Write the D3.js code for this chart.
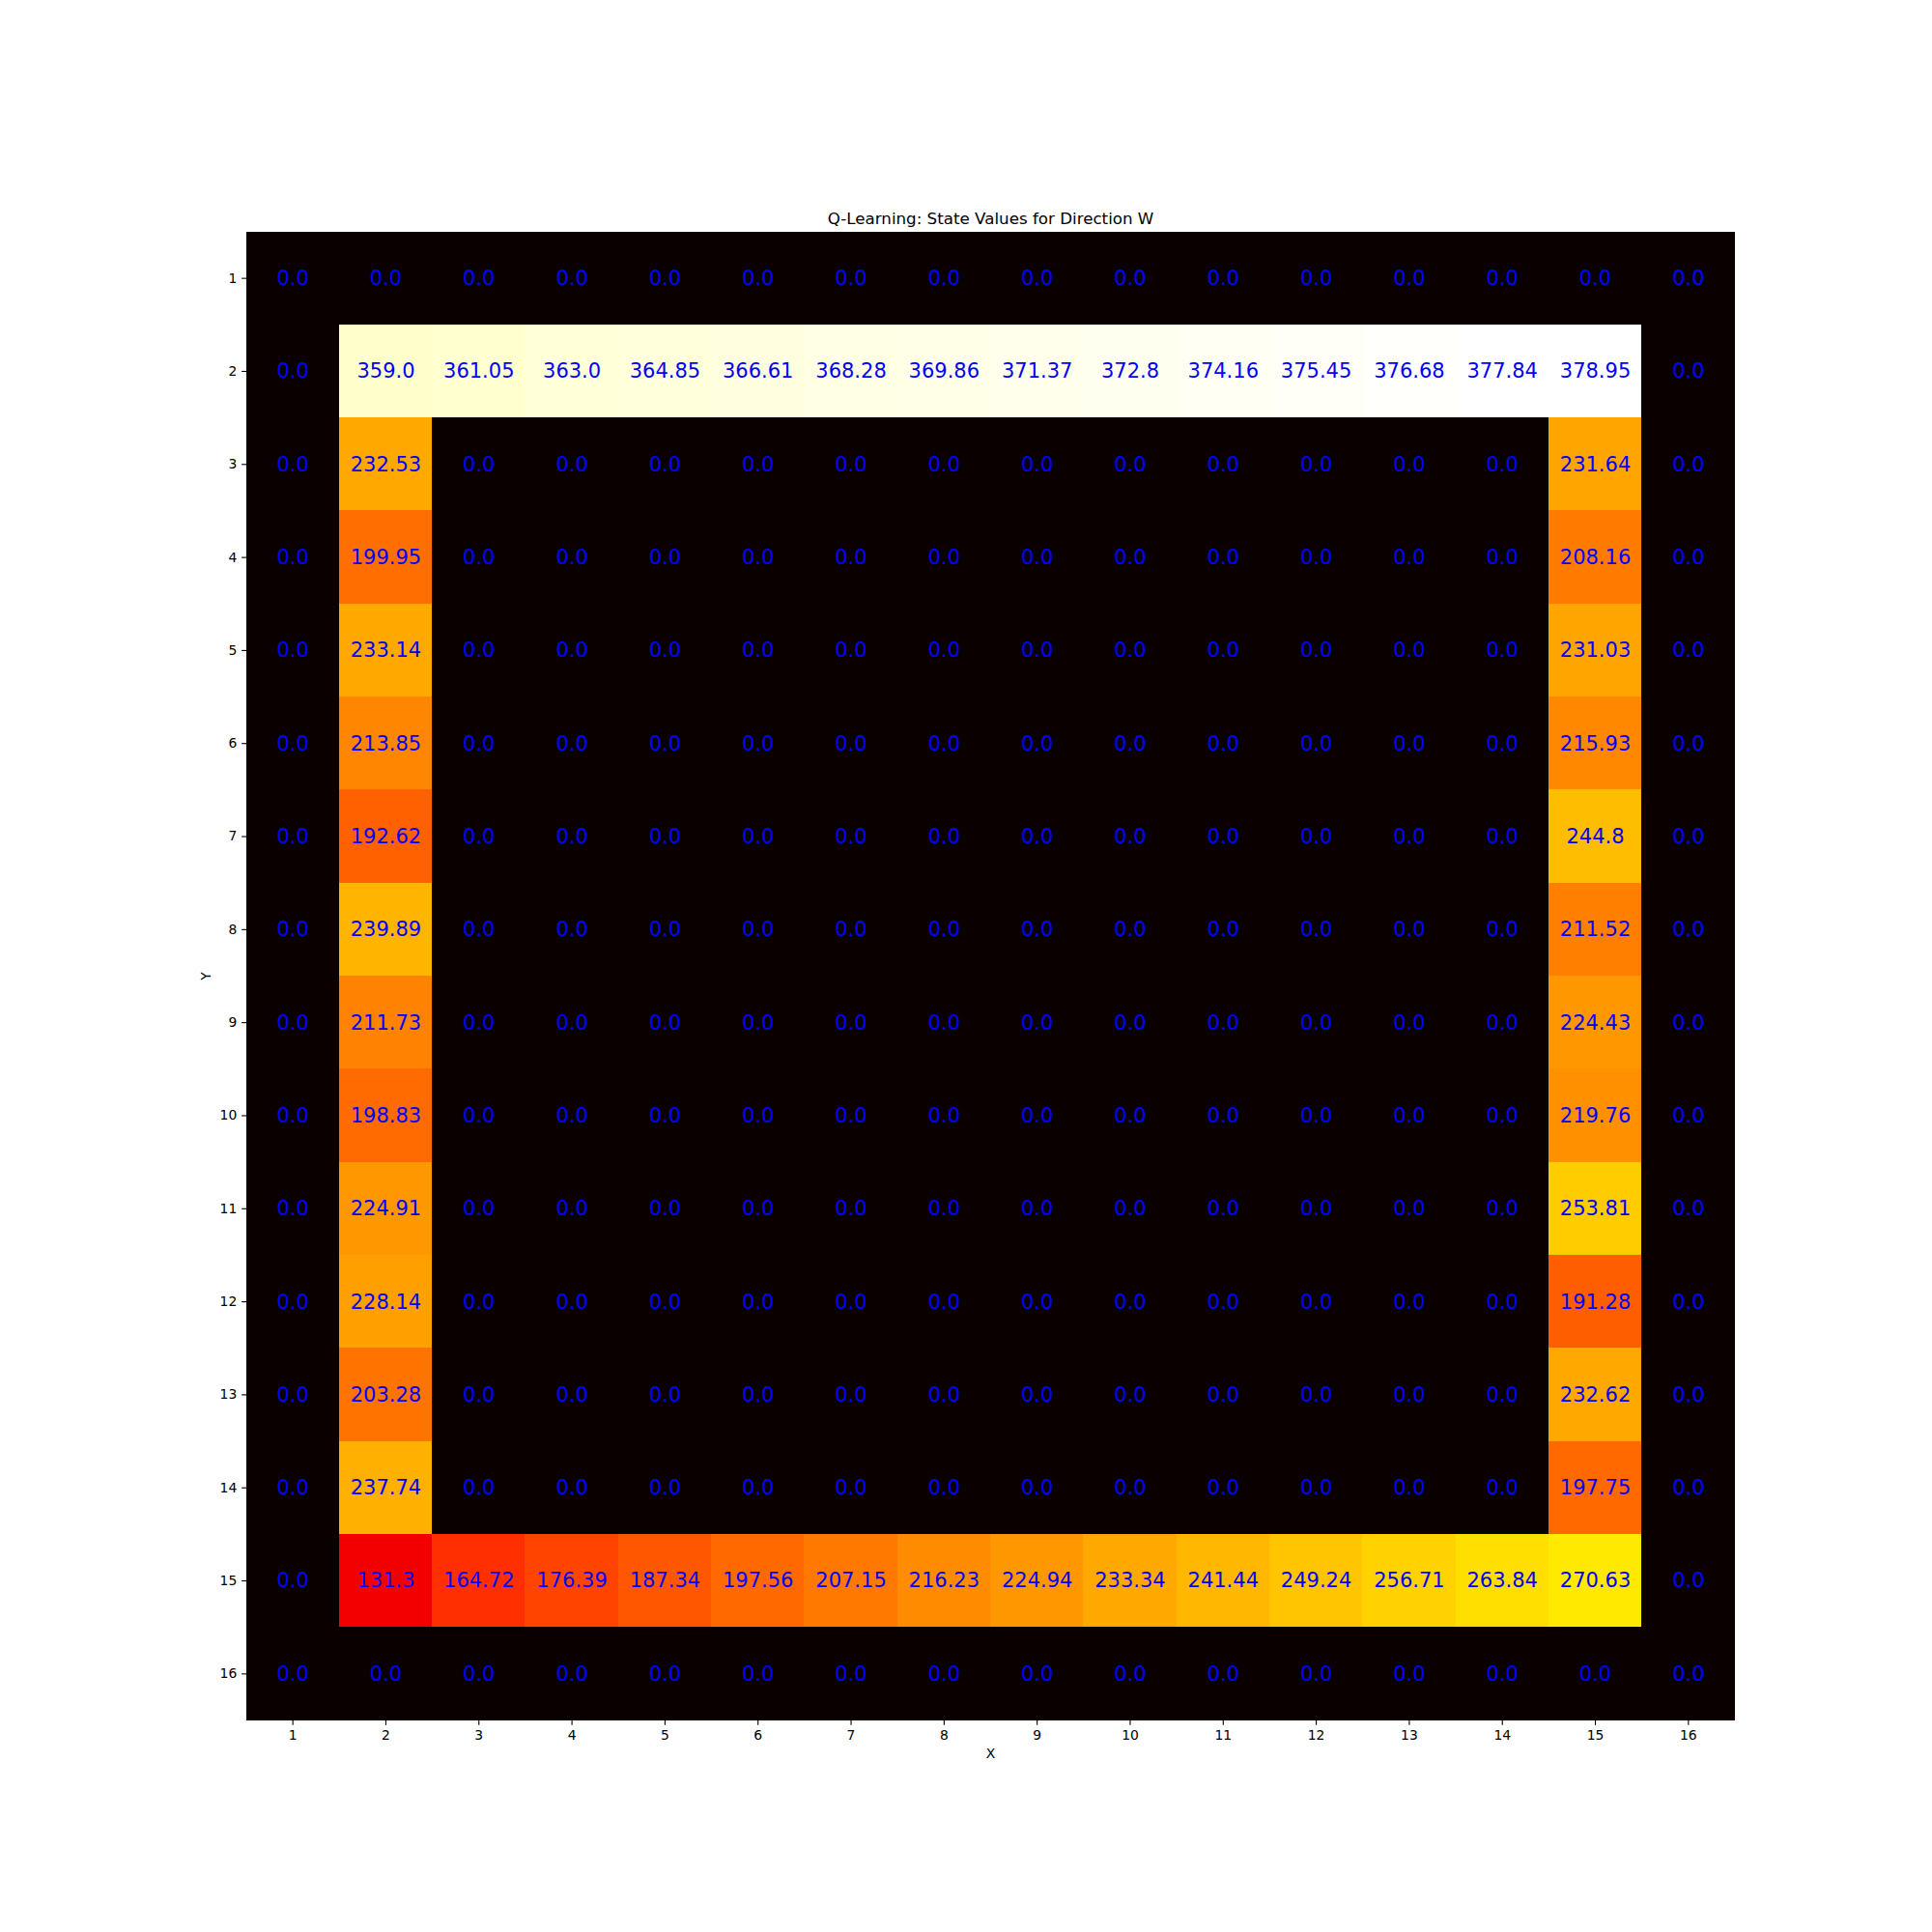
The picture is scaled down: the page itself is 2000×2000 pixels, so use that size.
<!DOCTYPE html>
<html>
<head>
<meta charset="utf-8">
<script src="https://cdn.jsdelivr.net/npm/d3@7"></script>
<style>
  html, body { margin: 0; padding: 0; background: #fff; }
  text { font-family: "DejaVu Sans", sans-serif; }
</style>
</head>
<body>
<svg id="chart" width="2000" height="2000"></svg>
<script>
const xLabels = [1,2,3,4,5,6,7,8,9,10,11,12,13,14,15,16];
const yLabels = [1,2,3,4,5,6,7,8,9,10,11,12,13,14,15,16];
const row1  = [0,0,0,0,0,0,0,0,0,0,0,0,0,0,0,0];
const row2  = [0,359.0,361.05,363.0,364.85,366.61,368.28,369.86,371.37,372.8,374.16,375.45,376.68,377.84,378.95,0];
const leftColumn  = [232.53,199.95,233.14,213.85,192.62,239.89,211.73,198.83,224.91,228.14,203.28,237.74]; // rows 3..14, x=2
const rightColumn = [231.64,208.16,231.03,215.93,244.8,211.52,224.43,219.76,253.81,191.28,232.62,197.75]; // rows 3..14, x=15
const row15 = [0,131.3,164.72,176.39,187.34,197.56,207.15,216.23,224.94,233.34,241.44,249.24,256.71,263.84,270.63,0];
const row16 = [0,0,0,0,0,0,0,0,0,0,0,0,0,0,0,0];
const chartTitle = "Q-Learning: State Values for Direction W";

// Build grid
const grid = [row1, row2];
for (let i = 0; i < leftColumn.length; i++) {
  const r = new Array(16).fill(0);
  r[1] = leftColumn[i];
  r[14] = rightColumn[i];
  grid.push(r);
}
grid.push(row15, row16);

const cells = [];
grid.forEach((r, yi) => r.forEach((v, xi) => cells.push({x: xLabels[xi], y: yLabels[yi], v})));

const svg = d3.select("#chart");
svg.append("rect").attr("width", 2000).attr("height", 2000).attr("fill", "#fff");

const plotLeft = 255, plotTop = 240, plotSize = 1541;
const x = d3.scaleBand().domain(xLabels).range([plotLeft, plotLeft + plotSize]);
const y = d3.scaleBand().domain(yLabels).range([plotTop, plotTop + plotSize]);

const vmax = d3.max(cells, d => d.v);
// matplotlib 'hot' colormap
function hot(t) {
  t = Math.max(0, Math.min(1, t));
  t = Math.floor(t * 255.999) / 255;
  const r = t < 0.365079 ? 0.0416 + (1 - 0.0416) * t / 0.365079 : 1;
  const g = t < 0.365079 ? 0 : (t < 0.746032 ? (t - 0.365079) / (0.746032 - 0.365079) : 1);
  const b = t < 0.746032 ? 0 : (t - 0.746032) / (1 - 0.746032);
  return d3.rgb(r * 255, g * 255, b * 255).toString();
}
const color = d3.scaleLinear().domain([0, vmax]).range([0, 1]);

svg.append("g").attr("shape-rendering", "crispEdges").selectAll("rect").data(cells).join("rect")
  .attr("x", d => Math.floor(x(d.x))).attr("y", d => Math.floor(y(d.y)))
  .attr("width", x.bandwidth() + 1).attr("height", y.bandwidth() + 1)
  .attr("fill", d => hot(color(d.v)));

function fmt(v) {
  let s = String(v);
  if (s.indexOf(".") < 0) s += ".0";
  return s;
}

svg.append("g").selectAll("text").data(cells).join("text")
  .attr("x", d => x(d.x) + x.bandwidth() / 2)
  .attr("y", d => y(d.y) + y.bandwidth() / 2)
  .attr("dy", "0.33em")
  .attr("text-anchor", "middle")
  .attr("fill", "blue")
  .attr("font-size", "21px")
  .text(d => fmt(d.v));

// axes
const xAxis = d3.axisBottom(x).tickSize(4.86).tickPadding(4.86);
const yAxis = d3.axisLeft(y).tickSize(4.86).tickPadding(4.86);
const gx = svg.append("g").attr("transform", `translate(0,${plotTop + plotSize})`).call(xAxis);
const gy = svg.append("g").attr("transform", `translate(${plotLeft},0)`).call(yAxis);
[gx, gy].forEach(g => {
  g.select(".domain").remove();
  g.selectAll("line").attr("stroke", "#000").attr("stroke-width", 1.1);
  g.selectAll("text").attr("font-size", "13.9px").attr("fill", "#000").attr("font-family", "DejaVu Sans, sans-serif");
});

svg.append("text").attr("x", plotLeft + plotSize / 2).attr("y", plotTop - 8)
  .attr("text-anchor", "middle").attr("font-size", "16.7px").attr("fill", "#000").text(chartTitle);

svg.append("text").attr("x", plotLeft + plotSize / 2).attr("y", 1820)
  .attr("text-anchor", "middle").attr("font-size", "13.9px").attr("fill", "#000").text("X");

svg.append("text").attr("transform", `translate(218,${plotTop + plotSize / 2}) rotate(-90)`)
  .attr("text-anchor", "middle").attr("font-size", "13.9px").attr("fill", "#000").text("Y");
</script>
</body>
</html>
